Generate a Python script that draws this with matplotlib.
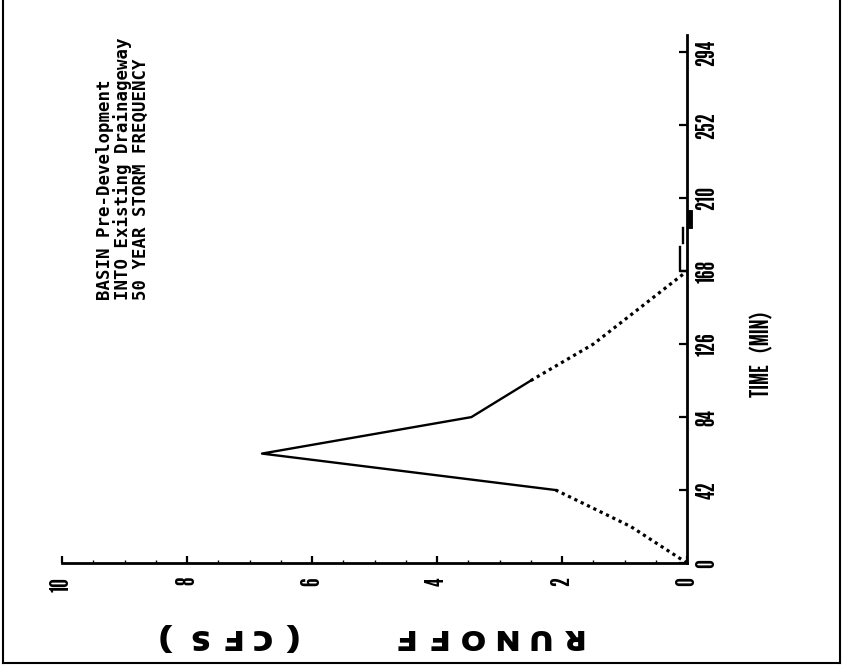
import numpy as np
import matplotlib
matplotlib.use("Agg")
import matplotlib.pyplot as plt
from matplotlib.lines import Line2D

# ---- data -------------------------------------------------------------
time_ticks = [0, 42, 84, 126, 168, 210, 252, 294]
runoff_ticks = [0, 2, 4, 6, 8, 10]

# hydrograph (time in minutes, runoff in cfs)
rise_t = [0, 21, 42]
rise_q = [0, 0.9, 2.1]
mid_t = [42, 63, 84, 105]
mid_q = [2.1, 6.8, 3.45, 2.5]
fall_t = [105, 126, 147, 168]
fall_q = [2.5, 1.5, 0.75, 0.0]
tail_t = [168, 168, 182]
tail_q = [0.0, 0.11, 0.11]
tail2_t = [184, 193]
tail2_q = [0.06, 0.06]
tail3_t = [194, 202]
tail3_q = [-0.05, -0.05]

title_lines = ["BASIN Pre-Development",
               "INTO Existing Drainageway",
               "50 YEAR STORM FREQUENCY"]
x_label = "TIME   (MIN)"
y_label = "RUNOFF  (CFS)"

# ---- figure -----------------------------------------------------------
W, H = 844, 669
fig = plt.figure(figsize=(W / 100, H / 100), dpi=100)
fig.patch.set_facecolor("white")

def fx(px):
    return px / W

def fy(py):
    return 1 - py / H

# the chart is laid out turned a quarter turn: runoff runs right-to-left
# along the bottom, time runs upward along the right-hand axis
ax = fig.add_axes([fx(62), fy(563), fx(687) - fx(62), fy(35) - fy(563)])
ax.set_xlim(10, 0)
ax.set_ylim(0, 304)

for s in ("top", "left"):
    ax.spines[s].set_visible(False)
for s in ("right", "bottom"):
    ax.spines[s].set_linewidth(2.0)
    ax.spines[s].set_color("black")

tick_font = dict(family=["League Gothic", "DejaVu Sans"], size=18)

ax.yaxis.tick_right()
ax.set_yticks(time_ticks)
ax.set_yticklabels([str(v) for v in time_ticks], rotation=90, va="center", ha="left", **tick_font)
ax.tick_params(axis="y", which="major", direction="in", length=6, width=1.6, pad=6)

ax.set_xticks(runoff_ticks)
ax.set_xticks(np.arange(0, 10.01, 0.5), minor=True)
ax.set_xticklabels([str(v) for v in runoff_ticks], rotation=90, va="top", ha="center", **tick_font)
ax.tick_params(axis="x", which="major", direction="in", length=5, width=1.6, pad=10)
ax.tick_params(axis="x", which="minor", direction="in", length=2, width=1.0)

lw = 1.7
dotted = (0, (1, 1.2))
ax.plot(rise_q, rise_t, color="black", lw=2.3, ls=dotted, clip_on=False)
ax.plot(mid_q, mid_t, color="black", lw=lw, clip_on=False)
ax.plot(fall_q, fall_t, color="black", lw=2.3, ls=dotted, clip_on=False)
ax.plot(tail_q, tail_t, color="black", lw=lw, clip_on=False)
ax.plot(tail2_q, tail2_t, color="black", lw=lw, clip_on=False)
ax.plot(tail3_q, tail3_t, color="black", lw=3.5, clip_on=False)

# title block, reading upward
title_font = dict(family=["DejaVu Sans Mono", "DejaVu Sans"], size=12.5, weight="bold")
for i, line in enumerate(title_lines):
    fig.text(fx(105 + 18 * i), fy(300), line, rotation=90, rotation_mode="anchor",
             ha="left", va="center", **title_font)

# time axis label
fig.text(fx(762), fy(397), x_label, rotation=90, rotation_mode="anchor",
         ha="left", va="center", family=["League Gothic", "DejaVu Sans"], size=18)

# runoff axis label, turned upside down, letters spread along the bottom
label_font = dict(family=["Encode Sans Expanded", "DejaVu Sans"], size=19, weight="black")
word_a, word_b = y_label.split("  ")
xs_a = np.linspace(573, 404, len(word_a))
xs_b = np.linspace(292, 170, len(word_b))
for ch, px in list(zip(word_a, xs_a)) + list(zip(word_b, xs_b)):
    fig.text(fx(px), fy(637), ch, rotation=180, ha="center", va="center", **label_font)

# outer border
for (x0, y0, x1, y1) in [(3, 1, 3, 663), (3, 663, 840, 663), (840, 1, 840, 663)]:
    fig.add_artist(Line2D([fx(x0), fx(x1)], [fy(y0), fy(y1)], color="black", lw=1.5,
                          transform=fig.transFigure))

fig.savefig("out.png", dpi=100)
